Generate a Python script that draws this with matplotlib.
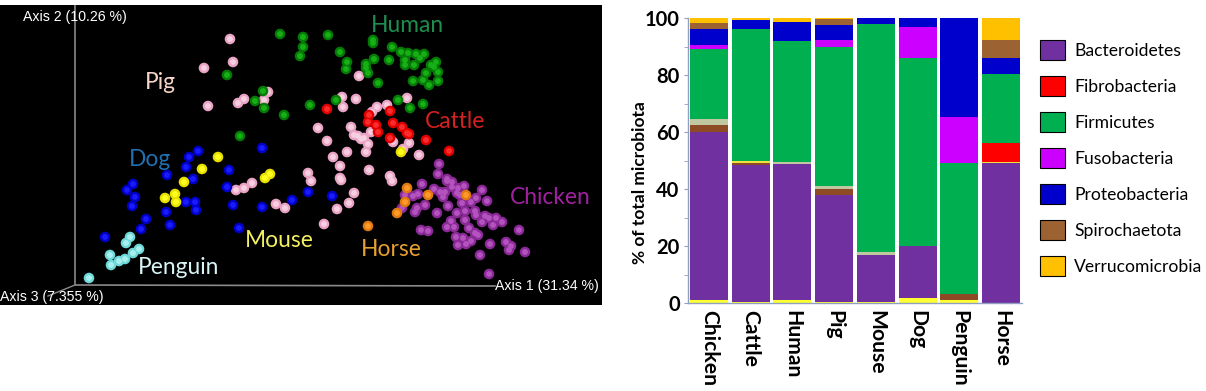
import matplotlib
matplotlib.use("Agg")
import matplotlib.pyplot as plt
from matplotlib.patches import Patch

W, H = 1206, 391

# ---------- PCoA scatter (in panel units) ----------
pig_x = [230,233,204,208,244,238,268,264,359,342,343,356,377,387,407,372,318,327,351,354,358,361,364,371,368,366,347,333,393,403,409,419,340,308,311,369,340,341,390,392,354,349,337,324,236,244,252,276,285]
pig_y = [39,62,68,106,99,103,92,100,76,97,107,99,107,105,98,112,128,141,127,135,136,139,138,132,144,152,152,157,142,149,143,155,166,173,181,170,178,180,176,181,193,203,209,224,190,188,183,204,208]
human_x = [280,303,303,300,328,340,347,346,373,373,392,401,408,416,424,389,374,405,420,414,405,366,366,436,431,434,426,438,413,423,429,438,378,368,398,410,423,336,310,227,263,255,264,284,240]
human_y = [34,37,47,56,35,52,62,69,40,43,47,52,53,54,54,60,59,60,58,65,65,68,64,62,65,67,73,72,81,80,85,81,83,73,100,108,104,100,105,75,91,101,108,115,136]
cattle_x = [327,369,368,390,393,376,378,402,390,407,409,426,449]
cattle_y = [109,115,122,111,123,125,132,127,138,133,134,140,151]
mouse_x = [218,202,184,165,175,176,270,265,401]
mouse_y = [157,169,182,198,194,202,174,178,152]
dog_x = [198,189,186,262,167,193,229,227,133,127,135,132,146,141,105,170,166,186,195,196,233,262,239,292,308,332]
dog_y = [151,157,167,148,175,179,170,187,184,190,197,206,219,229,237,225,212,202,202,210,205,207,228,200,192,196]
penguin_x = [89,111,110,119,125,133,139,126,130]
penguin_y = [278,265,255,261,259,253,249,243,237]
horse_x = [407,405,397,428,466,368]
horse_y = [188,202,213,195,195,226]
chicken_x = [439,438,422,434,447,447,452,464,482,405,413,418,443,445,457,460,476,487,471,462,448,425,417,415,402,437,457,465,475,476,482,485,489,496,502,493,465,451,447,454,469,475,478,421,428,456,463,471,458,466,490,480,489,506,511,509,525,519,452,458,440]
chicken_y = [164,174,184,189,181,179,182,186,190,195,196,194,197,192,193,195,198,201,202,203,206,205,208,212,208,213,213,211,211,215,222,216,218,218,222,225,220,221,227,227,228,233,235,230,231,237,238,241,245,244,244,255,274,242,246,250,252,230,187,188,192]

groups = [
    (pig_x, pig_y, "#E9A3C4", "#F7CFE0"),
    (human_x, human_y, "#067A06", "#16B016"),
    (dog_x, dog_y, "#0000C8", "#1A1AFF"),
    (cattle_x, cattle_y, "#E00000", "#FF2A2A"),
    (mouse_x, mouse_y, "#E8E000", "#FFFF20"),
    (penguin_x, penguin_y, "#6FD8D8", "#A8F0F0"),
    (chicken_x, chicken_y, "#8A2A96", "#B452BE"),
    (horse_x, horse_y, "#E07A10", "#FF9A2A"),
]

group_labels = ["Human", "Pig", "Cattle", "Dog", "Chicken", "Mouse", "Horse", "Penguin"]
group_label_x = [407, 160, 455, 150, 550, 279, 391, 179]
group_label_y = [26, 83, 122, 160, 198, 241, 250, 268]
group_label_colors = ["#1E8E4E", "#F6D5C8", "#D42020", "#2070B0", "#A020A0", "#F2F060", "#E8A030", "#D8F4F4"]

# ---------- stacked bars ----------
categories = ["Chicken", "Cattle", "Human", "Pig", "Mouse", "Dog", "Penguin", "Horse"]
low_yellow   = [1.0, 0.3, 1.0, 0.3, 0.3, 1.8, 1.0, 0.0]
bacteroidetes= [59.0, 48.2, 47.8, 37.7, 16.7, 18.2, 0.0, 49.0]
low_brown    = [2.5, 0.7, 0.0, 2.0, 0.0, 0.0, 2.0, 0.0]
light_tan    = [2.0, 0.0, 0.7, 1.0, 1.0, 0.0, 0.0, 0.0]
thin_yellow  = [0.0, 0.8, 0.0, 0.0, 0.0, 0.0, 0.0, 0.5]
fibrobacteria= [0.0, 0.0, 0.0, 0.0, 0.0, 0.0, 0.0, 6.7]
firmicutes   = [24.5, 46.0, 42.5, 49.0, 79.8, 65.9, 46.0, 24.3]
fusobacteria = [1.5, 0.0, 0.0, 2.3, 0.0, 11.1, 16.1, 0.0]
proteobacteria=[5.5, 3.2, 6.6, 5.2, 2.2, 3.0, 34.9, 5.6]
spirochaetota= [2.4, 0.0, 0.0, 2.0, 0.0, 0.0, 0.0, 6.3]
verrucomicrobia=[1.6, 0.8, 1.4, 0.5, 0.0, 0.0, 0.0, 7.6]

stack = [
    (low_yellow, "#FFFF33"), (bacteroidetes, "#7030A0"), (low_brown, "#8E4A24"),
    (light_tan, "#BFC8A0"), (thin_yellow, "#F2E040"), (fibrobacteria, "#FF0000"),
    (firmicutes, "#00B050"), (fusobacteria, "#CC00FF"), (proteobacteria, "#0000CC"),
    (spirochaetota, "#9C6232"), (verrucomicrobia, "#FFC000"),
]
legend_labels = ["Bacteroidetes", "Fibrobacteria", "Firmicutes", "Fusobacteria",
                 "Proteobacteria", "Spirochaetota", "Verrucomicrobia"]
legend_colors = ["#7030A0", "#FF0000", "#00B050", "#CC00FF", "#0000CC", "#9C6232", "#FFC000"]
yticks = [0, 20, 40, 60, 80, 100]

fig = plt.figure(figsize=(W/100, H/100), dpi=100, facecolor="white")

def box(l, t, r, b):
    return [l/W, 1-b/H, (r-l)/W, (b-t)/H]

# left panel: limits equal the panel's pixel size
ax = fig.add_axes(box(0, 5, 602, 305), facecolor="black")
ax.set_xlim(0, 602); ax.set_ylim(305, 5); ax.axis("off")
ax.add_patch(plt.Rectangle((0, 5), 602, 300, color="black", zorder=0))
ax.plot([75, 75, 495], [5, 285, 286], color="#8A8A8A", lw=1.2, zorder=1)
ax.plot([75, 48], [285, 296], color="#8A8A8A", lw=1.0, zorder=1)
for i, (x, y, c, hi) in enumerate(groups):
    ax.scatter(x, y, s=58, c=c, edgecolors="none", zorder=2+i*2)
    ax.scatter(x, y, s=18, c=hi, edgecolors="none", zorder=3+i*2)
for t, x, y, c in zip(group_labels, group_label_x, group_label_y, group_label_colors):
    ax.text(x, y, t, color=c, fontsize=16.4, family="Lato", ha="center", va="center", zorder=40)
ax.text(23, 17, "Axis 2 (10.26 %)", color="white", fontsize=10.2, family="Liberation Sans", va="center", zorder=40)
ax.text(0, 297, "Axis 3 (7.355 %)", color="white", fontsize=10.2, family="Liberation Sans", va="center", zorder=40)
ax.text(495, 286, "Axis 1 (31.34 %)", color="white", fontsize=10.2, family="Liberation Sans", va="center", zorder=40)

# right panel
bx = fig.add_axes(box(688, 18, 1022, 303))
bottom = [0.0]*len(categories)
for vals, col in stack:
    bx.bar(range(len(categories)), vals, width=0.91, bottom=bottom, color=col, linewidth=0)
    bottom = [a+b for a, b in zip(bottom, vals)]
bx.set_xlim(-0.5, 7.5); bx.set_ylim(0, 100)
for s in ("top", "right"):
    bx.spines[s].set_visible(False)
for s in ("left", "bottom"):
    bx.spines[s].set_color("#8FA0C0"); bx.spines[s].set_linewidth(1)
bx.set_yticks(yticks)
bx.set_yticks(range(10, 100, 20), minor=True)
bx.tick_params(axis="y", which="both", length=3, color="#8FA0C0", pad=3)
bx.tick_params(axis="x", length=0, pad=5)
bx.set_xticks(range(len(categories)))
bx.set_xticklabels(categories, rotation=270, fontsize=15.2, fontweight="bold", family="Lato", va="top", ha="center")
for lb in bx.get_yticklabels():
    lb.set_fontsize(14.5); lb.set_fontweight("bold"); lb.set_family("Lato")
fig.text(640/W, 1-183/H, "% of total microbiota", rotation=90, fontsize=12.5, fontweight="bold",
         family="Lato", ha="center", va="center")

handles = [Patch(facecolor=c, edgecolor="black", linewidth=0.8) for c in legend_colors]
leg = fig.legend(handles, legend_labels, loc="upper left", bbox_to_anchor=(1040/W, 1-40/H),
                 frameon=False, borderpad=0, borderaxespad=0, handlelength=1.4, handleheight=1.4,
                 handletextpad=0.54, labelspacing=0.9, prop={"family": "Lato", "size": 12.6})
fig.savefig("out.png", dpi=100, facecolor="white")
